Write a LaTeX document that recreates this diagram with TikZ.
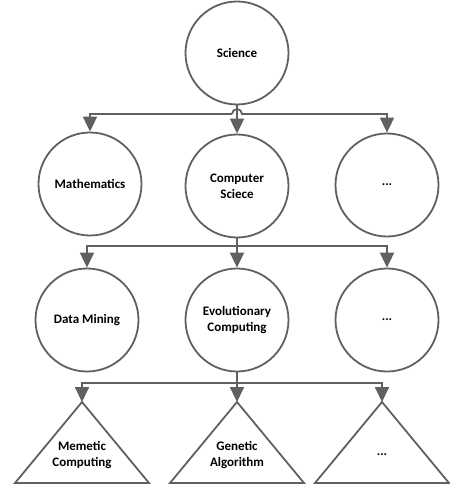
\documentclass[tikz,border=0pt]{standalone}
\usepackage{fontspec}
\setmainfont{Carlito}
\usetikzlibrary{arrows.meta}
\definecolor{linegray}{HTML}{606060}

\begin{document}
\begin{tikzpicture}[x = 1pt, y = -1pt]
\tikzstyle{VertexStyle}=[shape = circle,
                         minimum size = 103pt,
                         inner sep = 0pt,
                         align = center,
                         line width = 1.8pt,
                         draw = linegray,
                         font = \bfseries\fontsize{13}{16}\selectfont]
\tikzstyle{LabelStyle}=[align = center,
                        font = \bfseries\fontsize{13}{16}\selectfont]
\tikzstyle{LineStyle}=[line width = 1.8pt, draw = linegray]
\tikzstyle{EdgeStyle}=[LineStyle, -{Triangle[length = 15pt, width = 14pt]}, linegray]
\useasboundingbox (0,0) rectangle (449,489);
% circles
\node[VertexStyle] (sci) at (237,53) {Science};
\node[VertexStyle] (math) at (90,184) {Mathematics};
\node[VertexStyle] (cs) at (237,186) {Computer\\Sciece};
\node[VertexStyle] (dots1) at (387,185) {...};
\node[VertexStyle] (dm) at (87,320) {Data Mining};
\node[VertexStyle] (ec) at (237,320) {Evolutionary\\Computing};
\node[VertexStyle] (dots2) at (387,320) {...};
% triangles
\coordinate (mcTop) at (82,402);
\coordinate (gaTop) at (237,402);
\coordinate (dots3Top) at (382,402);
\draw[LineStyle, line join = miter] (mcTop) -- ++(-67,81) -- ++(134,0) -- cycle;
\draw[LineStyle, line join = miter] (gaTop) -- ++(-67,81) -- ++(134,0) -- cycle;
\draw[LineStyle, line join = miter] (dots3Top) -- ++(-67,81) -- ++(134,0) -- cycle;
\node[LabelStyle] (mc) at (82,455) {Memetic\\Computing};
\node[LabelStyle] (ga) at (237,455) {Genetic\\Algorithm};
\node[LabelStyle] (dots3) at (382,455) {...};
% connectors
\coordinate (j1) at (237,114);
\coordinate (j2) at (237,246);
\coordinate (j3) at (237,383);
\draw[EdgeStyle] (sci) -- (cs);
\draw[EdgeStyle] ([xshift = -5pt]j1) -| (math);
\draw[EdgeStyle] ([xshift = -5pt]j1) arc[start angle = 180, end angle = 0, radius = 5pt] -| (dots1);
\draw[LineStyle] (cs) -- (j2);
\draw[EdgeStyle] (j2) -| (dm);
\draw[EdgeStyle] (j2) -- (ec);
\draw[EdgeStyle] (j2) -| (dots2);
\draw[LineStyle] (ec) -- (j3);
\draw[EdgeStyle] (j3) -| (mcTop);
\draw[EdgeStyle] (j3) -- (gaTop);
\draw[EdgeStyle] (j3) -| (dots3Top);
\end{tikzpicture}
\end{document}
